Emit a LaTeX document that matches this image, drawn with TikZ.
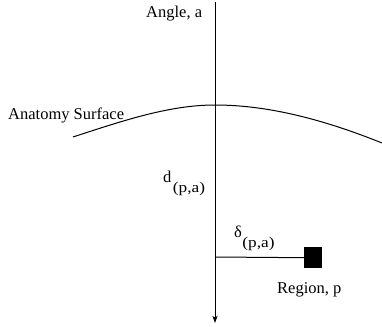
\documentclass[tikz,border=0pt]{standalone}
\usepackage{fontspec}
\usepackage{graphicx}
\setmainfont{Liberation Serif}
\usetikzlibrary{arrows.meta}
\tikzset{
  lbl/.style={inner sep=0pt, anchor=base west, font=\fontsize{16.5}{19}\selectfont},
  ln/.style={line width=1pt, draw=black},
}
\newcommand{\subtxt}[1]{\raisebox{-10pt}{\scalebox{1.15}[1]{\fontsize{15}{17}\selectfont #1}}}
\begin{document}
\begin{tikzpicture}[x=1pt,y=-1pt]
\useasboundingbox (0,0) rectangle (382,326);
% axis
\coordinate (top) at (215,2);
\coordinate (bot) at (215,323);
\coordinate (peak) at (215,105);
\coordinate (cl) at (73,137);
\coordinate (cr) at (382,143);
\coordinate (hb) at (215,257);
\draw[ln, -{Stealth[length=7pt,width=5pt,inset=1.5pt]}] (top) -- (bot);
% surface
\draw[ln] (cl) .. controls (125,120) and (170,105) .. (peak)
              .. controls (265,105) and (320,118) .. (cr);
% square
\node[fill=black, minimum width=18pt, minimum height=21pt, inner sep=0pt, anchor=north west] (sq) at (304,247) {};
\draw[ln] (hb) -- (sq.west);
% labels
\node[lbl] (ang) at (146,18) {Angle, a};
\node[lbl] (anat) at (8,119) {Anatomy Surface};
\node[lbl] (d) at (163,182) {d\hspace{1.5pt}\subtxt{(p,a)}};
\node[lbl] (delta) at (234,237) {δ\hspace{0.5pt}\subtxt{(p,a)}};
\node[lbl] (reg) at (277,293) {Region, p};
\end{tikzpicture}
\end{document}
